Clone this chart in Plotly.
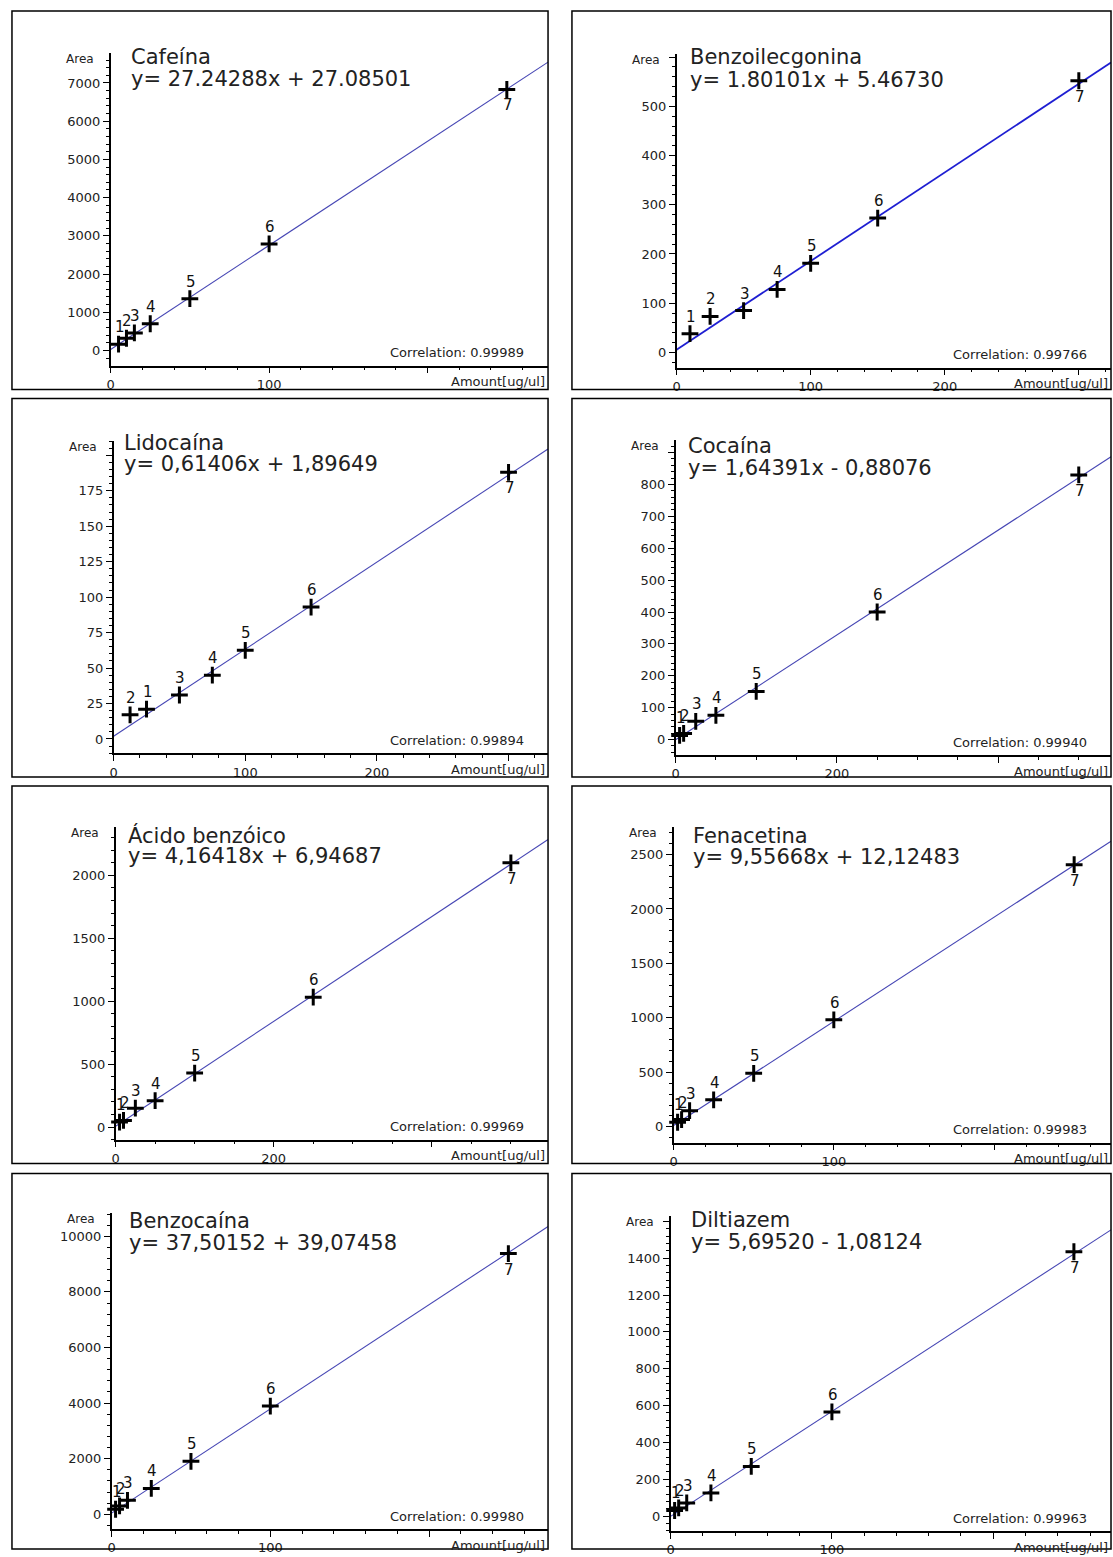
import numpy as np
import plotly.graph_objects as go

W, H = 1113, 1557

# ---------------- data ----------------
names = ["Cafeína", "Benzoilecgonina", "Lidocaína", "Cocaína",
         "Ácido benzóico", "Fenacetina", "Benzocaína", "Diltiazem"]
equations = ["y= 27.24288x + 27.08501", "y= 1.80101x + 5.46730",
             "y= 0,61406x + 1,89649", "y= 1,64391x - 0,88076",
             "y= 4,16418x + 6,94687", "y= 9,55668x + 12,12483",
             "y= 37,50152 + 39,07458", "y= 5,69520 - 1,08124"]
correlations = ["0.99989", "0.99766", "0.99894", "0.99940",
                "0.99969", "0.99983", "0.99980", "0.99963"]
slopes = [27.24288, 1.80101, 0.61406, 1.64391, 4.16418, 9.55668, 37.50152, 5.69520]
intercepts = [27.08501, 5.46730, 1.89649, -0.88076, 6.94687, 12.12483, 39.07458, -1.08124]
point_labels = ["1", "2", "3", "4", "5", "6", "7"]

cafeina_amount = [5, 10, 15, 25, 50, 100, 250]
cafeina_area = [165, 320, 460, 700, 1355, 2790, 6830]
benzoil_amount = [10, 25, 50, 75, 100, 150, 300]
benzoil_area = [38, 73, 85, 128, 181, 273, 552]
lidocaina_amount = [25, 12.5, 50, 75, 100, 150, 300]
lidocaina_area = [21, 17, 31, 45, 62.5, 93, 188]
cocaina_amount = [5, 10, 25, 50, 100, 250, 500]
cocaina_area = [13, 19, 57, 76, 151, 400, 830]
acido_amount = [5, 10, 25, 50, 100, 250, 500]
acido_area = [40, 53, 150, 210, 429, 1032, 2100]
fenacetina_amount = [2.5, 5, 10, 25, 50, 100, 250]
fenacetina_area = [42, 67, 148, 248, 491, 982, 2406]
benzocaina_amount = [2.5, 5, 10, 25, 50, 100, 250]
benzocaina_area = [180, 298, 500, 929, 1905, 3893, 9380]
diltiazem_amount = [2.5, 5, 10, 25, 50, 100, 250]
diltiazem_area = [31, 45, 72, 126, 270, 566, 1435]

amounts = [cafeina_amount, benzoil_amount, lidocaina_amount, cocaina_amount,
           acido_amount, fenacetina_amount, benzocaina_amount, diltiazem_amount]
areas = [cafeina_area, benzoil_area, lidocaina_area, cocaina_area,
         acido_area, fenacetina_area, benzocaina_area, diltiazem_area]

# ---------------- layout config (pixels / axis settings) ----------------
row_top = [7, 397, 787, 1177]
row_bot = [388, 778, 1167, 1555]
col_l = [8, 570]
col_r = [546, 1111]

# per panel: y-axis x, x-axis y, y-axis top, title x, name y, equation y
geom = [
    (107, 364, 49, 125, 53, 75),
    (675, 366, 50, 686, 53, 76),
    (110, 754, 440, 118, 442, 463),
    (674, 756, 439, 684, 445, 467),
    (112, 1143, 828, 122, 837, 858),
    (672, 1146, 828, 689, 837, 859),
    (108, 1535, 1217, 123, 1225, 1247),
    (669, 1537, 1220, 687, 1224, 1246),
]
# per panel: xmax, ymin, ymax, y major step, last y label, y minor, x major, x minor, hidden x tick
axcfg = [
    (276, -397, 7793, 1000, 7000, 200, 100, 20, 200),
    (324, -31, 607, 100, 500, 20, 100, 20, 300),
    (330, -10, 210, 25, 175, 5, 100, 20, 300),
    (540, -49, 939, 100, 800, 20, 200, 50, 400),
    (547, -100, 2387, 500, 2000, 100, 200, 50, 400),
    (273, -145, 2755, 500, 2500, 100, 100, 20, 200),
    (275, -536, 10833, 2000, 10000, 400, 100, 20, 200),
    (273, -81, 1628, 200, 1400, 40, 100, 20, 200),
]
line_colors = ["#4646b4", "#1e1ed2", "#4646b4", "#4646b4",
               "#4646b4", "#4646b4", "#4646b4", "#4646b4"]
line_widths = [1.1, 1.8, 1.1, 1.1, 1.1, 1.1, 1.1, 1.1]

FONT = "DejaVu Sans"

def px(x):
    return x / W

def py(y):
    return 1 - y / H

fig = go.Figure()
annotations = []
shapes = []

for i in range(8):
    r, c = divmod(i, 2)
    bl, br = col_l[c], col_r[c]
    bt, bb = row_top[r], row_bot[r]
    yax_x, xax_y, ytop, tx, ny, ey = geom[i]
    xmax, ymin, ymax, ystep, ylast, yminor, xstep, xminor, xhide = axcfg[i]
    k = "" if i == 0 else str(i + 1)
    xa, ya = "x" + k, "y" + k

    # box border
    shapes.append(dict(type="rect", xref="paper", yref="paper",
                       x0=px(bl), x1=px(br), y0=py(bb), y1=py(bt),
                       line=dict(color="black", width=1.5), layer="above"))

    # regression line
    lx = np.array([0, xmax])
    fig.add_trace(go.Scatter(x=lx, y=slopes[i] * lx + intercepts[i], mode="lines",
                             line=dict(color=line_colors[i], width=line_widths[i]),
                             xaxis=xa, yaxis=ya, showlegend=False, hoverinfo="skip",
                             cliponaxis=True))
    # points
    fig.add_trace(go.Scatter(x=amounts[i], y=areas[i], mode="markers",
                             marker=dict(symbol="cross-thin", size=12, color="black",
                                         line=dict(color="black", width=3)),
                             xaxis=xa, yaxis=ya, showlegend=False, cliponaxis=False))
    # point number labels
    for j, (ax_v, ar_v) in enumerate(zip(amounts[i], areas[i])):
        below = (j == len(point_labels) - 1)
        annotations.append(dict(text=point_labels[j], x=ax_v, y=ar_v, xref=xa, yref=ya,
                                showarrow=False, xanchor="center", yanchor="middle",
                                yshift=-16 if below else 17, xshift=1,
                                font=dict(family=FONT, size=15, color="#111")))

    x_alias = {str(int(xhide)): " "}
    y_alias = {str(int(v)): " " for v in np.arange(ylast + ystep, ymax + ystep, ystep)}

    axis_common = dict(showline=True, linecolor="black", linewidth=1.5,
                       showgrid=False, zeroline=False, ticks="outside",
                       tickcolor="black", tickwidth=1.3, ticklen=6,
                       tickfont=dict(family=FONT, size=13, color="#222"),
                       tickmode="linear", tick0=0, tickformat="d")
    fig.update_layout(**{
        ("xaxis" + k): dict(axis_common, domain=[px(yax_x), px(br)], range=[0, xmax],
                            anchor=ya, dtick=xstep, labelalias=x_alias,
                            minor=dict(tickmode="linear", tick0=0, dtick=xminor,
                                       ticks="outside", ticklen=3, tickwidth=1,
                                       tickcolor="black")),
        ("yaxis" + k): dict(axis_common, domain=[py(xax_y), py(ytop)], range=[ymin, ymax],
                            anchor=xa, dtick=ystep, labelalias=y_alias,
                            minor=dict(tickmode="linear", tick0=0, dtick=yminor,
                                       ticks="outside", ticklen=3, tickwidth=1,
                                       tickcolor="black")),
    })

    # texts
    annotations.append(dict(text=names[i], x=px(tx), y=py(ny), xref="paper", yref="paper",
                            xanchor="left", yanchor="middle", showarrow=False,
                            font=dict(family=FONT, size=21, color="#222")))
    annotations.append(dict(text=equations[i], x=px(tx), y=py(ey), xref="paper", yref="paper",
                            xanchor="left", yanchor="middle", showarrow=False,
                            font=dict(family=FONT, size=21, color="#222")))
    annotations.append(dict(text="Area", x=px(yax_x - 15), y=py(ytop + 6), xref="paper",
                            yref="paper", xanchor="right", yanchor="middle", showarrow=False,
                            font=dict(family=FONT, size=12, color="#222")))
    annotations.append(dict(text="Amount[ug/ul]", x=px(br - 1), y=py(xax_y + 16),
                            xref="paper", yref="paper", xanchor="right", yanchor="middle",
                            showarrow=False, font=dict(family=FONT, size=13, color="#222")))
    annotations.append(dict(text="Correlation: " + correlations[i], x=px(br - 22),
                            y=py(xax_y - 13), xref="paper", yref="paper", xanchor="right",
                            yanchor="middle", showarrow=False,
                            font=dict(family=FONT, size=13, color="#222")))

fig.update_layout(width=W, height=H, margin=dict(l=0, r=0, t=0, b=0),
                  paper_bgcolor="white", plot_bgcolor="white",
                  annotations=annotations, shapes=shapes, showlegend=False)

fig.write_html("out.html")
